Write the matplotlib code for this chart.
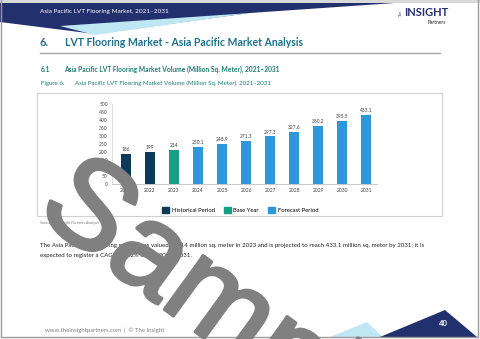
import numpy as np
import matplotlib.pyplot as plt
import matplotlib.patheffects as pe
from matplotlib.patches import Polygon, Rectangle, Patch

# data
years = ['2021', '2022', '2023', '2024', '2025', '2026', '2027', '2028', '2029', '2030', '2031']
volume = [186, 199, 214, 230.1, 248.9, 271.3, 297.3, 327.6, 360.2, 395.5, 433.1]
value_labels = ['186', '199', '214', '230.1', '248.9', '271.3', '297.3', '327.6', '360.2', '395.5', '433.1']
period = ['hist', 'hist', 'base', 'fc', 'fc', 'fc', 'fc', 'fc', 'fc', 'fc', 'fc']
y_ticks = [0, 50, 100, 150, 200, 250, 300, 350, 400, 450, 500]

c_hist = '#0e3a5a'
c_base = '#13a085'
c_fc = '#2f96d8'
c_navy = '#23306e'
c_title = '#1f6f8b'
c_teal = '#1c7d74'
period_color = {'hist': c_hist, 'base': c_base, 'fc': c_fc}

plt.rcParams['font.family'] = ['Lato', 'DejaVu Sans']

W, H = 480, 339
fig = plt.figure(figsize=(4.8, 3.39), dpi=100)

# page layer in pixel coordinates
bg = fig.add_axes([0, 0, 1, 1])
bg.set_xlim(0, W)
bg.set_ylim(H, 0)
bg.axis('off')

bg.add_patch(Rectangle((0, 0), W, 3, color='#d9d9d9', lw=0))
bg.add_patch(Polygon([(0, 3), (395, 3), (250, 13), (95, 34), (0, 22)], closed=True, color=c_navy, lw=0))
bg.add_patch(Polygon([(60, 26), (95, 35), (250, 13)], closed=True, color='#bfe6f3', lw=0))
bg.text(40, 11, 'Asia Pacific LVT Flooring Market, 2021–2031', color='white', fontsize=4.6, va='center')

# logo
bg.text(404, 13, 'INSIGHT', color=c_navy, fontsize=8, fontweight='bold', va='center')
bg.text(401, 13, 'The', color=c_navy, fontsize=2.5, rotation=90, va='center', ha='center')
bg.text(427, 22.5, 'Partners', color='#222222', fontsize=3.5, va='center')

# headings
bg.text(40, 43, '6.', color=c_title, fontsize=7.8, fontweight='bold', va='center')
bg.text(65, 43, 'LVT Flooring Market - Asia Pacific Market Analysis', color=c_title,
        fontsize=7.6, fontweight='bold', va='center')
bg.plot([40, 440], [53, 53], color='#a6a6a6', lw=1)
bg.text(41, 69, '6.1', color=c_teal, fontsize=4.8, fontweight='bold', va='center')
bg.text(64, 69, 'Asia Pacific LVT Flooring Market Volume (Million Sq. Meter), 2021–2031',
        color=c_teal, fontsize=4.8, fontweight='bold', va='center')
bg.text(41, 83, 'Figure 6.', color=c_teal, fontsize=4.4, va='center')
bg.text(75, 83, 'Asia Pacific LVT Flooring Market Volume (Million Sq. Meter), 2021–2031',
        color=c_teal, fontsize=4.4, va='center')

# chart frame
bg.add_patch(Rectangle((37, 93), 405, 123, fill=False, ec='#d0d0d0', lw=0.8))
bg.text(40, 223, 'Source: The Insight Partners Analysis', color='#7f7f7f', fontsize=2.8,
        style='italic', va='center')

bg.text(40, 246, 'The Asia Pacific LVT flooring market was valued at 214 million sq. meter in 2023 and is '
        'projected to reach 433.1 million sq. meter by 2031; it is', color='#222222', fontsize=4.4, va='center')
bg.text(40, 256, 'expected to register a CAGR of 9.2% during 2023–2031.', color='#222222',
        fontsize=4.4, va='center')

# footer
bg.add_patch(Polygon([(330, 337), (367, 322), (383, 337)], closed=True, color='#bfe6f3', lw=0))
bg.add_patch(Polygon([(380, 337), (445, 310), (477, 337)], closed=True, color=c_navy, lw=0))
bg.text(443, 324, '40', color='white', fontsize=5.5, fontweight='bold', ha='center', va='center')
bg.text(45, 330, 'www.theinsightpartners.com  |  © The Insight', color='#7f7f7f', fontsize=4.3, va='center')
bg.plot([1, 1, 478, 478], [0, 337, 337, 0], color='#9a9a9a', lw=1)

# chart
ax = fig.add_axes([112 / W, 1 - 184 / H, 265 / W, 80 / H])
x = np.arange(len(years))
colors = [period_color[p] for p in period]
bars = ax.bar(x, volume, width=0.4, color=colors)
for xi, v, lab in zip(x, volume, value_labels):
    ax.text(xi, v + 12, lab, ha='center', va='bottom', fontsize=3.5, color='#404040')
ax.set_xlim(-0.58, 10.45)
ax.set_ylim(0, 500)
ax.set_yticks(y_ticks)
ax.set_yticklabels([str(t) for t in y_ticks], fontsize=3.6, color='#404040')
ax.set_xticks(x)
ax.set_xticklabels(years, fontsize=3.6, color='#404040')
ax.tick_params(length=0, pad=3)
ax.spines['top'].set_visible(False)
ax.spines['right'].set_visible(False)
ax.spines['left'].set_color('#d9d9d9')
ax.spines['left'].set_linewidth(0.6)
ax.spines['bottom'].set_color('#bfbfbf')
ax.spines['bottom'].set_linewidth(0.6)
ax.set_facecolor('none')

handles = [Patch(color=c_hist), Patch(color=c_base), Patch(color=c_fc)]
fig.legend(handles, ['Historical Period', 'Base Year', 'Forecast Period'], loc='center',
           bbox_to_anchor=(240 / W, 1 - 210 / H), ncol=3, frameon=False, fontsize=4.2,
           handlelength=1.2, handleheight=1.2, columnspacing=1.5, handletextpad=0.5)

# watermark
wm = fig.add_axes([0, 0, 1, 1], zorder=10)
wm.set_xlim(0, W)
wm.set_ylim(H, 0)
wm.axis('off')
wm.text(224, 313, 'Sample', color='#808080', fontsize=90, rotation=-36,
        ha='center', va='center', family='Liberation Sans',
        path_effects=[pe.withStroke(linewidth=2.5, foreground='#808080')])

fig.savefig('out.png', dpi=100)
